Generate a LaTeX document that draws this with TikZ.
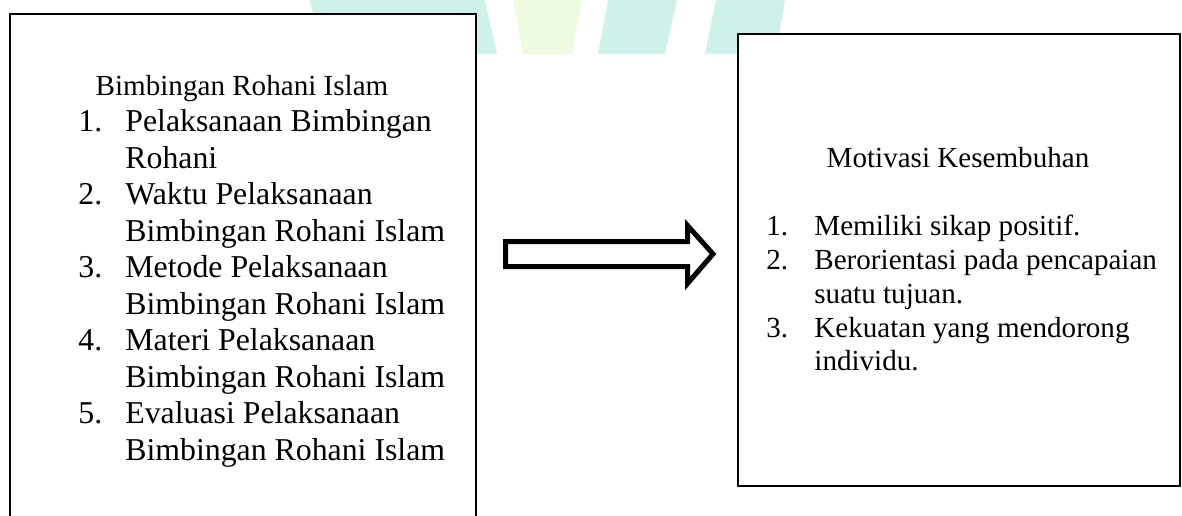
\documentclass[tikz,border=0pt]{standalone}
\usepackage{fontspec}
\setmainfont{Liberation Serif}
\usepackage{tikz}

\definecolor{wmteal}{HTML}{CEF2EA}
\definecolor{wmlime}{HTML}{EFFBE0}

\tikzset{
	box/.style={draw, line width=1pt, fill=white, inner sep=0pt, anchor=north west},
	headtxt/.style={inner sep=0pt, anchor=base, font=\fontsize{14.55}{16.8}\selectfont},
	bigtxt/.style={inner sep=0pt, anchor=base west, font=\fontsize{15.9}{18.3}\selectfont},
	smltxt/.style={inner sep=0pt, anchor=base west, font=\fontsize{14.55}{16.8}\selectfont},
}

\begin{document}
\begin{tikzpicture}[x=0.5pt, y=-0.5pt]
		\useasboundingbox (0,0) rectangle (1182,515);
		
		% watermark at the top
		\fill[wmteal] (310,0) -- (485,0) -- (497,54) -- (322,54) -- cycle;
		\fill[wmlime] (513,0) -- (582,0) -- (572,54) -- (523,54) -- cycle;
		\fill[wmteal] (608,0) -- (677,0) -- (665,54) -- (598,54) -- cycle;
		\fill[wmteal] (716,0) -- (785,0) -- (776,54) -- (705,54) -- cycle;
		
		% left box
		\node[box, minimum width=233pt, minimum height=263.5pt] (bri) at (9,13) {};
		
		\node[headtxt] (bri-h) at (242,95) {Bimbingan Rohani Islam};
		
		\node[bigtxt] (n1) at (78,131.5) {1.};
		\node[bigtxt] (t1a) at (125,131.5) {Pelaksanaan Bimbingan};
		\node[bigtxt] (t1b) at (125,168) {Rohani};
		
		\node[bigtxt] (n2) at (78,204.5) {2.};
		\node[bigtxt] (t2a) at (125,204.5) {Waktu Pelaksanaan};
		\node[bigtxt] (t2b) at (125,241) {Bimbingan Rohani Islam};
		
		\node[bigtxt] (n3) at (78,277.5) {3.};
		\node[bigtxt] (t3a) at (125,277.5) {Metode Pelaksanaan};
		\node[bigtxt] (t3b) at (125,314) {Bimbingan Rohani Islam};
		
		\node[bigtxt] (n4) at (78,350.5) {4.};
		\node[bigtxt] (t4a) at (125,350.5) {Materi Pelaksanaan};
		\node[bigtxt] (t4b) at (125,387) {Bimbingan Rohani Islam};
		
		\node[bigtxt] (n5) at (78,423.5) {5.};
		\node[bigtxt] (t5a) at (125,423.5) {Evaluasi Pelaksanaan};
		\node[bigtxt] (t5b) at (125,460) {Bimbingan Rohani Islam};
		
		% block arrow
		\draw[line width=2.5pt, miter limit=4] (505.5,241.5) -- (687.5,241.5) -- (687.5,225.5)
			-- (713,254) -- (687.5,283.5) -- (687.5,266.5) -- (505.5,266.5) -- cycle;
		
		% right box
		\node[box, minimum width=221pt, minimum height=226pt] (mk) at (737,33) {};
		
		\node[headtxt] (mk-h) at (958,167) {Motivasi Kesembuhan};
		
		\node[smltxt] (m1) at (766,235) {1.};
		\node[smltxt] (s1a) at (814,235) {Memiliki sikap positif.};
		
		\node[smltxt] (m2) at (766,269) {2.};
		\node[smltxt] (s2a) at (814,269) {Berorientasi pada pencapaian};
		\node[smltxt] (s2b) at (814,303) {suatu tujuan.};
		
		\node[smltxt] (m3) at (766,337) {3.};
		\node[smltxt] (s3a) at (814,337) {Kekuatan yang mendorong};
		\node[smltxt] (s3b) at (814,370) {individu.};
		
	\end{tikzpicture}
\end{document}
